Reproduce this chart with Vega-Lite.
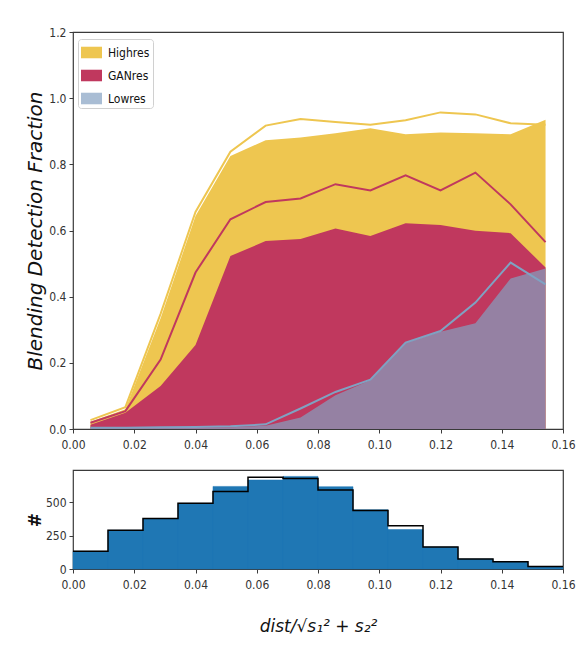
{
  "$schema": "https://vega.github.io/schema/vega-lite/v6.json",
  "background": "white",
  "padding": {"left": 24, "top": 25, "right": 2, "bottom": 5},
  "bounds": "flush",
  "spacing": 41,
  "config": {
    "view": {"stroke": "#3a3a3a", "strokeWidth": 1.2},
    "axis": {
      "domain": false, "grid": false, "ticks": true, "tickSize": 4, "tickColor": "#3a3a3a", "tickWidth": 1,
      "labelFlush": false, "labelOverlap": false,
      "labelFont": "DejaVu Sans Condensed, Liberation Sans Narrow, DejaVu Sans", "labelFontSize": 12, "labelColor": "#333333", "labelPadding": 3,
      "titleColor": "#111111", "titleFont": "DejaVu Sans", "titleFontWeight": "normal"
    },
    "axisX": {"labelPadding": 6},
    "legend": {
      "labelFont": "DejaVu Sans Condensed, Liberation Sans Narrow, DejaVu Sans", "labelFontSize": 12, "labelColor": "#111111",
      "fillColor": "rgba(255,255,255,0.85)", "strokeColor": "#d0d0d0", "cornerRadius": 3, "padding": 3,
      "symbolType": "M-1,-0.55H1V0.55H-1Z", "symbolSize": 441, "symbolStrokeWidth": 0, "symbolOpacity": 1,
      "labelOffset": 6, "rowPadding": 6
    }
  },
  "datasets": {
    "frac": [
      {"x": 0.0057, "series": "Highres", "area": 0.022, "line": 0.027},
      {"x": 0.0171, "series": "Highres", "area": 0.060, "line": 0.066},
      {"x": 0.0286, "series": "Highres", "area": 0.335, "line": 0.348},
      {"x": 0.0400, "series": "Highres", "area": 0.644, "line": 0.656},
      {"x": 0.0514, "series": "Highres", "area": 0.825, "line": 0.838},
      {"x": 0.0629, "series": "Highres", "area": 0.873, "line": 0.917},
      {"x": 0.0743, "series": "Highres", "area": 0.881, "line": 0.937},
      {"x": 0.0857, "series": "Highres", "area": 0.894, "line": 0.928},
      {"x": 0.0971, "series": "Highres", "area": 0.909, "line": 0.920},
      {"x": 0.1086, "series": "Highres", "area": 0.891, "line": 0.933},
      {"x": 0.1200, "series": "Highres", "area": 0.896, "line": 0.957},
      {"x": 0.1314, "series": "Highres", "area": 0.894, "line": 0.951},
      {"x": 0.1429, "series": "Highres", "area": 0.891, "line": 0.924},
      {"x": 0.1543, "series": "Highres", "area": 0.935, "line": 0.920},
      {"x": 0.0057, "series": "GANres", "area": 0.013, "line": 0.019},
      {"x": 0.0171, "series": "GANres", "area": 0.049, "line": 0.054},
      {"x": 0.0286, "series": "GANres", "area": 0.130, "line": 0.210},
      {"x": 0.0400, "series": "GANres", "area": 0.254, "line": 0.473},
      {"x": 0.0514, "series": "GANres", "area": 0.523, "line": 0.634},
      {"x": 0.0629, "series": "GANres", "area": 0.568, "line": 0.686},
      {"x": 0.0743, "series": "GANres", "area": 0.574, "line": 0.697},
      {"x": 0.0857, "series": "GANres", "area": 0.606, "line": 0.740},
      {"x": 0.0971, "series": "GANres", "area": 0.583, "line": 0.721},
      {"x": 0.1086, "series": "GANres", "area": 0.622, "line": 0.767},
      {"x": 0.1200, "series": "GANres", "area": 0.617, "line": 0.721},
      {"x": 0.1314, "series": "GANres", "area": 0.599, "line": 0.775},
      {"x": 0.1429, "series": "GANres", "area": 0.592, "line": 0.679},
      {"x": 0.1543, "series": "GANres", "area": 0.488, "line": 0.565},
      {"x": 0.0057, "series": "Lowres", "area": 0.002, "line": 0.004},
      {"x": 0.0171, "series": "Lowres", "area": 0.002, "line": 0.004},
      {"x": 0.0286, "series": "Lowres", "area": 0.003, "line": 0.005},
      {"x": 0.0400, "series": "Lowres", "area": 0.004, "line": 0.006},
      {"x": 0.0514, "series": "Lowres", "area": 0.005, "line": 0.008},
      {"x": 0.0629, "series": "Lowres", "area": 0.010, "line": 0.014},
      {"x": 0.0743, "series": "Lowres", "area": 0.035, "line": 0.062},
      {"x": 0.0857, "series": "Lowres", "area": 0.102, "line": 0.112},
      {"x": 0.0971, "series": "Lowres", "area": 0.147, "line": 0.149},
      {"x": 0.1086, "series": "Lowres", "area": 0.260, "line": 0.261},
      {"x": 0.1200, "series": "Lowres", "area": 0.294, "line": 0.296},
      {"x": 0.1314, "series": "Lowres", "area": 0.320, "line": 0.382},
      {"x": 0.1429, "series": "Lowres", "area": 0.455, "line": 0.503},
      {"x": 0.1543, "series": "Lowres", "area": 0.485, "line": 0.437}
    ],
    "hist": [
      {"x0": 0.0, "x1": 0.011429, "count": 133},
      {"x0": 0.011429, "x1": 0.022857, "count": 290},
      {"x0": 0.022857, "x1": 0.034286, "count": 378},
      {"x0": 0.034286, "x1": 0.045714, "count": 492},
      {"x0": 0.045714, "x1": 0.057143, "count": 619},
      {"x0": 0.057143, "x1": 0.068571, "count": 667},
      {"x0": 0.068571, "x1": 0.08, "count": 694},
      {"x0": 0.08, "x1": 0.091429, "count": 617},
      {"x0": 0.091429, "x1": 0.102857, "count": 445},
      {"x0": 0.102857, "x1": 0.114286, "count": 296},
      {"x0": 0.114286, "x1": 0.125714, "count": 165},
      {"x0": 0.125714, "x1": 0.137143, "count": 75},
      {"x0": 0.137143, "x1": 0.148571, "count": 55},
      {"x0": 0.148571, "x1": 0.16, "count": 18}
    ],
    "step": [
      {"edge": 0.0, "count": 133},
      {"edge": 0.011429, "count": 290},
      {"edge": 0.022857, "count": 378},
      {"edge": 0.034286, "count": 492},
      {"edge": 0.045714, "count": 580},
      {"edge": 0.057143, "count": 687},
      {"edge": 0.068571, "count": 679},
      {"edge": 0.08, "count": 593},
      {"edge": 0.091429, "count": 438},
      {"edge": 0.102857, "count": 324},
      {"edge": 0.114286, "count": 165},
      {"edge": 0.125714, "count": 75},
      {"edge": 0.137143, "count": 55},
      {"edge": 0.148571, "count": 18},
      {"edge": 0.16, "count": 18}
    ]
  },
  "vconcat": [
    {
      "width": 490,
      "height": 397,
      "data": {"name": "frac"},
      "encoding": {
        "x": {"field": "x", "type": "quantitative",
              "scale": {"domain": [0, 0.16], "nice": false, "zero": false},
              "axis": {"values": [0, 0.02, 0.04, 0.06, 0.08, 0.1, 0.12, 0.14, 0.16], "format": ".2f", "title": null}}
      },
      "layer": [
        {
          "transform": [{"filter": "datum.series === 'Highres'"}],
          "mark": {"type": "area", "opacity": 1},
          "encoding": {
            "y": {"field": "area", "type": "quantitative", "stack": null,
                  "scale": {"domain": [0, 1.2], "nice": false},
                  "axis": {"values": [0, 0.2, 0.4, 0.6, 0.8, 1.0, 1.2], "format": ".1f",
                           "title": "Blending Detection Fraction", "titleFontSize": 20, "titleFontStyle": "italic",
                           "titleX": -38, "titleBaseline": "middle"}},
            "color": {"field": "series", "type": "nominal",
                      "scale": {"domain": ["Highres", "GANres", "Lowres"], "range": ["#EEC650", "#C0385E", "#A9BDD4"]},
                      "legend": {"title": null, "orient": "none", "legendX": 5, "legendY": 7}}
          }
        },
        {
          "transform": [{"filter": "datum.series === 'GANres'"}],
          "mark": {"type": "area", "opacity": 1},
          "encoding": {
            "y": {"field": "area", "type": "quantitative", "stack": null},
            "color": {"field": "series", "type": "nominal"}
          }
        },
        {
          "transform": [{"filter": "datum.series === 'Lowres'"}],
          "mark": {"type": "area", "fill": "#83A1C0", "fillOpacity": 0.7},
          "encoding": {
            "y": {"field": "area", "type": "quantitative", "stack": null}
          }
        },
        {
          "mark": {"type": "line", "strokeWidth": 2},
          "encoding": {
            "y": {"field": "line", "type": "quantitative"},
            "stroke": {"field": "series", "type": "nominal",
                       "scale": {"domain": ["Highres", "GANres", "Lowres"], "range": ["#EEC650", "#C0385E", "#7FA2C2"]},
                       "legend": null}
          }
        }
      ]
    },
    {
      "width": 490,
      "height": 99,
      "layer": [
        {
          "data": {"name": "hist"},
          "mark": {"type": "rect", "color": "#1F77B4", "stroke": "#1F77B4", "strokeWidth": 0.5},
          "encoding": {
            "x": {"field": "x0", "type": "quantitative",
                  "scale": {"domain": [0, 0.16], "nice": false, "zero": false},
                  "axis": {"values": [0, 0.02, 0.04, 0.06, 0.08, 0.1, 0.12, 0.14, 0.16], "format": ".2f",
                           "title": "dist/√s₁² + s₂²", "titleFontSize": 17, "titleFontStyle": "italic",
                           "titleY": 57, "titleBaseline": "middle"}},
            "x2": {"field": "x1"},
            "y": {"field": "count", "type": "quantitative",
                  "scale": {"domain": [0, 742], "nice": false},
                  "axis": {"values": [0, 250, 500], "title": "#", "titleFontSize": 17, "titleFontWeight": "bold",
                           "titleX": -38, "titleBaseline": "middle"}},
            "y2": {"datum": 0}
          }
        },
        {
          "data": {"name": "step"},
          "mark": {"type": "line", "interpolate": "step-after", "color": "black", "strokeWidth": 1.5},
          "encoding": {
            "x": {"field": "edge", "type": "quantitative"},
            "y": {"field": "count", "type": "quantitative"}
          }
        }
      ]
    }
  ]
}
